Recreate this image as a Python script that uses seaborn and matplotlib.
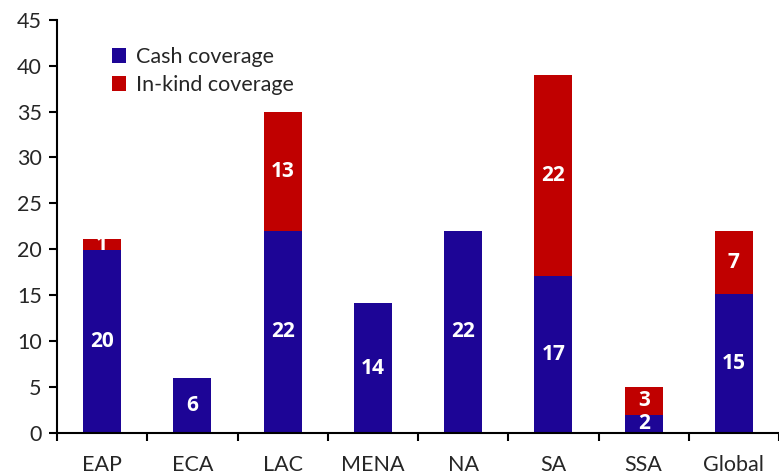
import matplotlib
matplotlib.use("Agg")
import matplotlib.pyplot as plt
import seaborn as sns
import pandas as pd
import numpy as np

regions = ["EAP", "ECA", "LAC", "MENA", "NA", "SA", "SSA", "Global"]
cash = [19.9, 6.0, 22.0, 14.1, 22.0, 17.1, 2.0, 15.1]
inkind = [1.2, 0.0, 13.0, 0.0, 0.0, 21.9, 3.0, 6.9]
cash_labels = ["20", "6", "22", "14", "22", "17", "2", "15"]
inkind_labels = ["1", "", "13", "", "", "22", "3", "7"]
yticks = [0, 5, 10, 15, 20, 25, 30, 35, 40, 45]

CASH_COLOR = "#1D0596"
INKIND_COLOR = "#C00000"

sns.set_style("white")
plt.rcParams["font.family"] = ["Lato", "DejaVu Sans"]

df = pd.DataFrame({"region": regions, "cash": cash, "inkind": inkind})
df["total"] = df["cash"] + df["inkind"]

fig = plt.figure(figsize=(7.79, 4.74), dpi=100)
ax = fig.add_axes([0.0732, 0.0865, 0.9268, 0.872])

sns.barplot(data=df, x="region", y="total", color=INKIND_COLOR, width=0.42,
            saturation=1, ax=ax, label="In-kind coverage", linewidth=0)
sns.barplot(data=df, x="region", y="cash", color=CASH_COLOR, width=0.42,
            saturation=1, ax=ax, label="Cash coverage", linewidth=0)

lab_font = dict(family=["Open Sans", "DejaVu Sans"], fontsize=15,
                fontweight="bold", color="white", ha="center", va="center")
for i in range(len(regions)):
    ax.text(i, cash[i] / 2, cash_labels[i], **lab_font)
    if inkind_labels[i]:
        ax.text(i, cash[i] + inkind[i] / 2, inkind_labels[i], **lab_font)

ax.set_ylim(0, 45)
ax.set_xlim(-0.5, len(regions) - 0.5)
ax.set_yticks(yticks)
ax.set_xlabel("")
ax.set_ylabel("")

# x ticks at category boundaries, labels at centers
ax.set_xticks(np.arange(-0.5, len(regions) - 0.4, 1.0))
ax.set_xticklabels([])
ax.set_xticks(np.arange(len(regions)), minor=True)
ax.set_xticklabels(regions, minor=True)
ax.tick_params(axis="x", which="major", direction="out", length=6, width=1.5,
               color="black", bottom=True)
ax.tick_params(axis="x", which="minor", length=0, pad=16, labelsize=15.5)
ax.tick_params(axis="y", direction="out", length=6, width=1.5, color="black",
               left=True, labelsize=15.5, pad=5)

for s in ["top", "right"]:
    ax.spines[s].set_visible(False)
for s in ["left", "bottom"]:
    ax.spines[s].set_color("black")
    ax.spines[s].set_linewidth(1.5)

handles, labels = ax.get_legend_handles_labels()
order = [labels.index("Cash coverage"), labels.index("In-kind coverage")]
leg = ax.legend([handles[k] for k in order], [labels[k] for k in order],
                loc="upper left", bbox_to_anchor=(0.064, 0.955), frameon=False,
                fontsize=15.5, handlelength=0.65, handleheight=0.65,
                handletextpad=0.45, labelspacing=0.38, borderaxespad=0)

fig.savefig("out.png", dpi=100)
